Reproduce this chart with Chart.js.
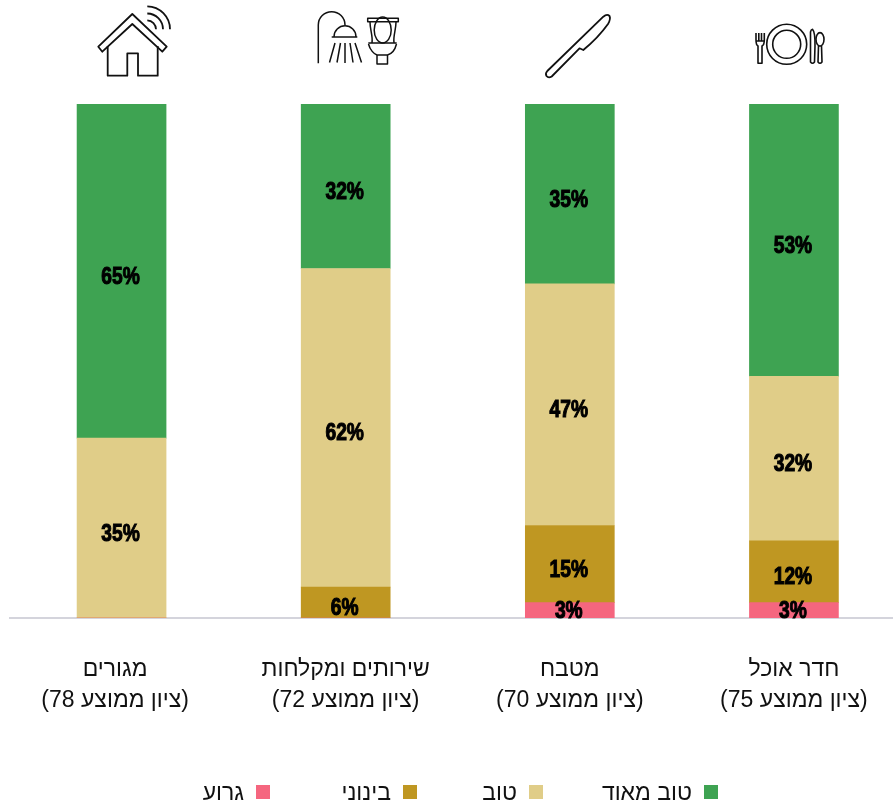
<!DOCTYPE html>
<html lang="he">
<head>
<meta charset="utf-8">
<style>
  html, body { margin: 0; padding: 0; background: #fff; overflow: hidden; width: 893px; height: 805px; }
  #wrap { position: relative; width: 893px; height: 805px; overflow: hidden; }
  canvas { display: block; direction: rtl; }
  .legend-item { position: absolute; top: 777px; height: 30px; display: flex; flex-direction: row-reverse; align-items: center; font: 23px "Liberation Sans", sans-serif; color: #111; white-space: nowrap; direction: rtl; }
  .legend-box { width: 14px; height: 14px; margin-left: 12px; }
</style>
</head>
<body>
<div id="wrap"><canvas id="chart" width="906" height="805" style="width:906px;height:805px"></canvas></div>
<script src="https://cdn.jsdelivr.net/npm/chart.js@4"></script>
<script>
const categories = [
  ['מגורים', '(ציון ממוצע 78)'],
  ['שירותים ומקלחות', '(ציון ממוצע 72)'],
  ['מטבח', '(ציון ממוצע 70)'],
  ['חדר אוכל', '(ציון ממוצע 75)']
];
const bad = [0, 0, 3, 3];
const medium = [0, 6, 15, 12];
const good = [35, 62, 47, 32];
const veryGood = [65, 32, 35, 53];

const green = '#3ea352';
const tan = '#e0cd88';
const ochre = '#bf9722';
const pink = '#f5667f';

// right edge of each legend square, the gaps in the original are uneven
const legendRight = { 'טוב מאוד': 718, 'טוב': 543, 'בינוני': 417, 'גרוע': 270 };

const percentLabels = {
  id: 'percentLabels',
  afterDatasetsDraw(chart) {
    const { ctx, chartArea } = chart;
    const squeeze = 0.8;
    ctx.save();
    ctx.font = 'bold 24px "Liberation Sans", sans-serif';
    ctx.textAlign = 'center';
    ctx.textBaseline = 'middle';
    ctx.direction = 'ltr';
    ctx.fillStyle = '#000';
    ctx.strokeStyle = '#000';
    ctx.lineWidth = 1.1;
    chart.data.datasets.forEach((ds, i) => {
      chart.getDatasetMeta(i).data.forEach((bar, j) => {
        if (!ds.data[j]) return;
        const p = bar.getCenterPoint();
        const y = Math.min(p.y + 6, chartArea.bottom - 7);
        ctx.save();
        ctx.translate(p.x - 1, y);
        ctx.scale(squeeze, 1);
        ctx.fillText(ds.data[j] + '%', 0, 0);
        ctx.strokeText(ds.data[j] + '%', 0, 0);
        ctx.restore();
      });
    });
    ctx.restore();
  }
};

const icons = {
  id: 'icons',
  afterDraw(chart) {
    const { ctx } = chart;
    ctx.save();
    ctx.strokeStyle = '#111';
    ctx.lineWidth = 1.8;
    ctx.lineJoin = 'round';
    ctx.stroke(new Path2D('M132.3 14 L98.3 46.7 L102.3 51.7 L132.3 24 L162.3 51.7 L166.7 46.7 Z'));
    ctx.stroke(new Path2D('M107.7 46 V75.7 H127.3 V53.3 H138 V75.7 H157.7 V46'));
    ctx.stroke(new Path2D('M147.3 6.3 A23 23 0 0 1 170 29.3 M147.3 13.5 A16 16 0 0 1 163 29.3 M147.3 20.3 A9 9 0 0 1 156 29.3'));
    // shower
    ctx.lineWidth = 1.5;
    ctx.stroke(new Path2D('M318.3 63.3 V25 A13.3 13.3 0 0 1 345 25'));
    ctx.stroke(new Path2D('M334 36.7 A11 11 0 0 1 356 36.7 M331.7 37 H357.3'));
    ctx.stroke(new Path2D('M335 43 L329.5 62.5 M340.5 43 L337 62.5 M345 43 V63 M350 43 L353 62.5 M355 43 L361.5 62.5'));
    // toilet
    ctx.stroke(new Path2D('M367.7 18.3 H398.3 V21.7 H367.7 Z'));
    ctx.stroke(new Path2D('M391.2 30 A8.5 13 0 1 1 374.2 30 A8.5 13 0 1 1 391.2 30'));
    ctx.stroke(new Path2D('M370 22 C370 30 373 36 372 42.5 M396 22 C396 30 393 36 394 42.5 M368.3 43 H396.7 M368.5 44 C370 50 374 54 377 55 V64 H387.5 V55 C391 54 395 50 396.5 44 M377 55 H387.5'));
    // knife
    ctx.lineWidth = 1.8;
    ctx.stroke(new Path2D('M547.3 71 L603.3 16.7 Q607 13.5 609.5 16 Q611 19 608 24 Q598 38 583.3 50 L579.5 48.3 L551.7 76.5 Q548.5 78.5 546.5 76 Q545 73.5 547.3 71 Z'));
    // plate and cutlery
    ctx.lineWidth = 1.6;
    ctx.stroke(new Path2D('M806.7 44.3 A20 20 0 1 1 766.7 44.3 A20 20 0 1 1 806.7 44.3 M800.7 44.3 A14 14 0 1 1 772.7 44.3 A14 14 0 1 1 800.7 44.3'));
    ctx.stroke(new Path2D('M756 33 V40 Q756 45 758 46 V63.3 H762 V46 Q764.3 45 764.3 40 V33 M758.8 33 V41 M761.5 33 V41 M756 41 H764.3'));
    ctx.stroke(new Path2D('M812.5 29.3 Q815.2 32 815 46 L814.5 62 Q812.5 64.5 810.5 62 V32 Q811 29.5 812.5 29.3 Z'));
    ctx.stroke(new Path2D('M824 39.3 A4 6.7 0 1 1 816 39.3 A4 6.7 0 1 1 824 39.3 M818.5 46 L818 62 Q820 64.5 822 62 L821.5 46'));
    ctx.restore();
  }
};

const chart = new Chart(document.getElementById('chart'), {
  type: 'bar',
  plugins: [percentLabels, icons],
  data: {
    labels: categories,
    datasets: [
      { label: 'גרוע', data: bad, backgroundColor: pink },
      { label: 'בינוני', data: medium, backgroundColor: ochre },
      { label: 'טוב', data: good, backgroundColor: tan },
      { label: 'טוב מאוד', data: veryGood, backgroundColor: green }
    ]
  },
  options: {
    responsive: false,
    animation: false,
    barThickness: 89,
    layout: { padding: { left: 9.5, right: 0, top: 104, bottom: 0 } },
    scales: {
      y: {
        display: false,
        stacked: true,
        min: 0,
        max: 100
      },
      x: {
        stacked: true,
        grid: { display: false, drawTicks: false },
        border: { color: '#d4d4dc', width: 2 },
        ticks: {
          color: '#111',
          padding: 36,
          maxRotation: 0,
          font: { family: '"Liberation Sans", sans-serif', size: 23, lineHeight: 1.35 },
          // the first label sits a bit left of its bar in the original
          callback: (val, index) => index === 0
            ? categories[index].map((line) => '\u00A0\u00A0' + line)
            : categories[index]
        },
        afterFit: (axis) => {
          axis.height = 187;
        }
      }
    },
    plugins: {
      legend: { display: false },
      tooltip: { enabled: false }
    }
  }
});

// html legend, built from the datasets
const wrap = document.getElementById('wrap');
chart.data.datasets.forEach((ds) => {
  const item = document.createElement('div');
  item.className = 'legend-item';
  item.style.right = (893 - legendRight[ds.label]) + 'px';
  const box = document.createElement('span');
  box.className = 'legend-box';
  box.style.background = ds.backgroundColor;
  const text = document.createElement('span');
  text.textContent = ds.label;
  item.append(text, box);
  wrap.appendChild(item);
});
</script>
</body>
</html>
